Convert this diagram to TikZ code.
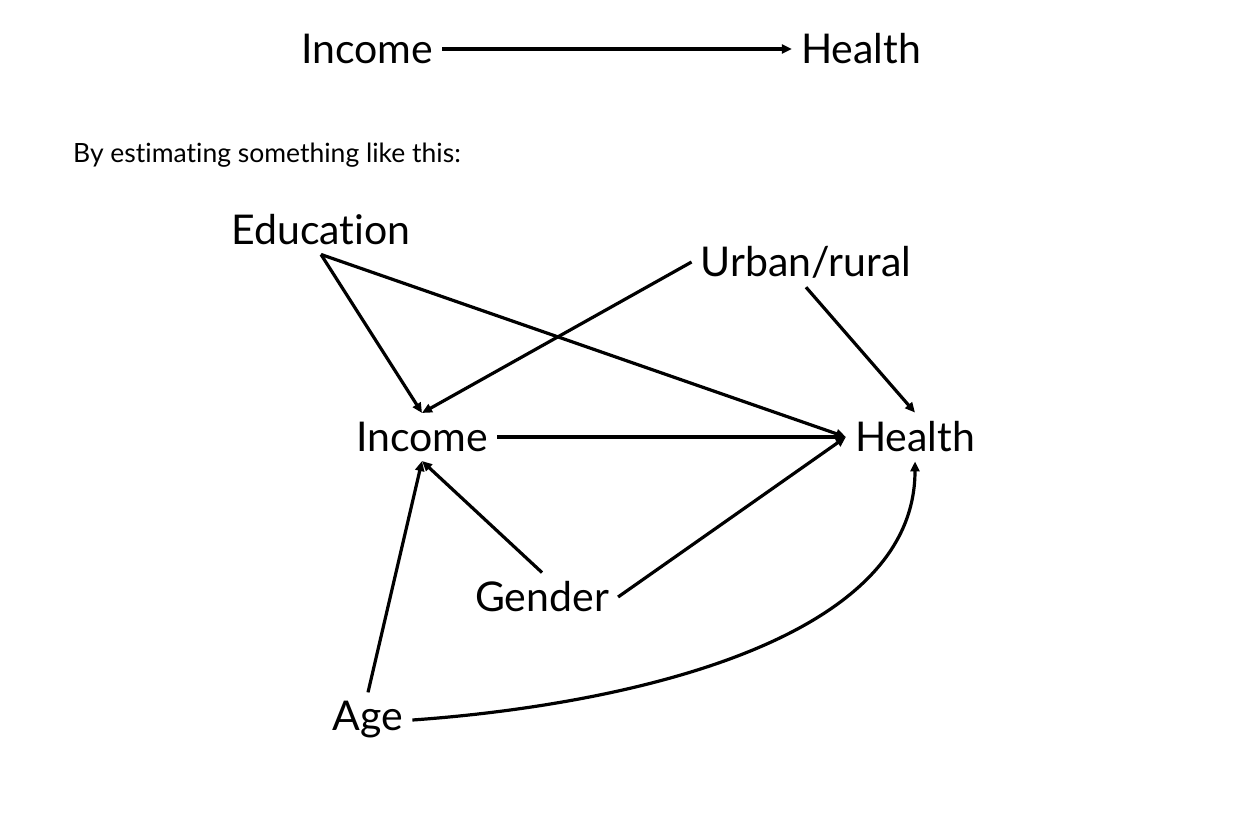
\documentclass[tikz,border=0pt]{standalone}
\usepackage{fontspec}
\setmainfont{Lato}[Ligatures=NoCommon]
\usepackage{tikz}
\usetikzlibrary{arrows.meta}

\begin{document}
\begin{tikzpicture}[
  x=1pt, y=-1pt,
  >={Triangle[length=10pt,width=9pt]},
  var/.style={
    font=\fontsize{41}{48}\selectfont,
    inner sep=9pt
  },
  caption/.style={font=\fontsize{26.5}{31}\selectfont, anchor=west, inner sep=0pt},
  flow/.style={->, line width=3.2pt, draw=black}
]

\useasboundingbox[fill=white] (0,0) rectangle (1236,828);

% the question
\node[var] (incometop) at (367,49) {Income};
\node[var] (healthtop) at (861,49) {Health};
\draw[flow] (incometop) -- (healthtop);

\node[caption] (lead) at (73,155) {By estimating something like this:};

% the model
\node[var] (education) at (321,230) {Education};
\node[var] (urban) at (806,262) {Urban/rural};
\node[var] (income) at (422,437) {Income};
\node[var] (health) at (915,437) {Health};
\node[var] (gender) at (542,597) {Gender};
\node[var] (age) at (368,720) {Age};

\draw[flow] (education.south) -- (income.north);
\draw[flow] (education.south) -- (health.west);
\draw[flow] (urban.west) -- (income.north);
\draw[flow] (urban.south) -- (health.north);
\draw[flow] (income) -- (health.west);
\draw[flow] (gender.north) -- (income.south);
\draw[flow] (gender.east) -- (health.west);
\draw[flow] (age.north) -- (income.south);
\draw[flow] (age.east) to[out=4,in=-90,looseness=0.85] (health.south);

\end{tikzpicture}
\end{document}
